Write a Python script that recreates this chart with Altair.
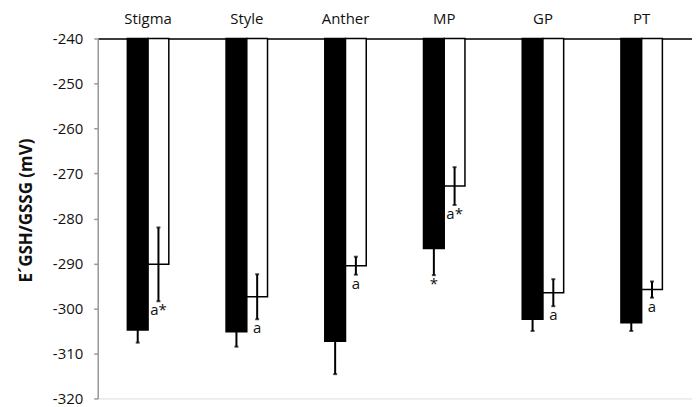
import altair as alt
import pandas as pd

categories = ["Stigma", "Style", "Anther", "MP", "GP", "PT"]
series = ["dark", "light"]
dark_vals = [-304.8, -305.2, -307.3, -286.7, -302.4, -303.2]
dark_err = [2.8, 3.3, 7.3, 5.9, 2.6, 1.8]
light_vals = [-290.2, -297.4, -290.5, -272.8, -296.5, -295.8]
light_err = [8.2, 5.0, 2.0, 4.2, 3.0, 1.8]
dark_labels = ["", "", "", "*", "", ""]
light_labels = ["a*", "a", "a", "a*", "a", "a"]
y_ticks = [-240, -250, -260, -270, -280, -290, -300, -310, -320]

FONT = "Open Sans"

rows = []
for i, c in enumerate(categories):
    for s, vals, errs, labs in [("dark", dark_vals, dark_err, dark_labels),
                                ("light", light_vals, light_err, light_labels)]:
        rows.append({"cat": c, "series": s, "value": vals[i],
                     "lo": vals[i] - errs[i], "hi": vals[i] + errs[i],
                     "label": labs[i]})
df = pd.DataFrame(rows)

x = alt.X("cat:N", sort=categories, title=None,
          scale=alt.Scale(paddingInner=0.58, paddingOuter=0.3),
          axis=alt.Axis(orient="top", domainColor="black", domainWidth=1.5,
                        ticks=False, labelAngle=0, labelPadding=12,
                        labelFont=FONT, labelFontSize=15, labelColor="#111"))
xo = alt.XOffset("series:N", sort=series, scale=alt.Scale(paddingInner=0, paddingOuter=0))
yscale = alt.Scale(domain=[-320, -240], nice=False, zero=False)

base = alt.Chart(df)

bars = base.mark_bar(stroke="black", strokeWidth=1.5).encode(
    x=x, xOffset=xo,
    y=alt.Y("value:Q", scale=yscale, title="E´GSH/GSSG (mV)",
            axis=alt.Axis(values=y_ticks, grid=False, domainColor="#999999",
                          domainWidth=1.5, tickColor="#999999", tickWidth=1.5,
                          tickSize=4, labelFont=FONT, labelFontSize=15,
                          labelExpr="datum.value + ''",
                          labelColor="#111", labelPadding=11,
                          titleFont=FONT, titleFontSize=17, titleFontWeight="bold",
                          titleColor="#111", titlePadding=17, titleY=172)),
    y2=alt.datum(-240),
    fill=alt.Fill("series:N", sort=series,
                  scale=alt.Scale(domain=series, range=["black", "white"]), legend=None),
)

err = base.mark_rule(color="black", strokeWidth=2).encode(
    x=x, xOffset=xo,
    y=alt.Y("lo:Q", scale=yscale), y2="hi:Q",
)
cap_lo = base.mark_tick(color="black", size=4, thickness=2, orient="horizontal").encode(
    x=x, xOffset=xo, y=alt.Y("lo:Q", scale=yscale))
cap_hi = base.mark_tick(color="black", size=4, thickness=2, orient="horizontal").encode(
    x=x, xOffset=xo, y=alt.Y("hi:Q", scale=yscale))

labels = base.mark_text(baseline="top", dy=2, font=FONT, fontSize=15, color="#111").encode(
    x=x, xOffset=xo, y=alt.Y("lo:Q", scale=yscale), text="label:N")

chart = alt.layer(bars, err, cap_lo, cap_hi, labels).properties(
    width=596, height=361,
    autosize=alt.AutoSizeParams(type="none"),
    padding={"left": 90, "top": 30, "right": 0, "bottom": 8},
).configure_view(stroke=None).configure(background="white")

chart.save("out.html", embed_options={"renderer": "svg", "actions": False})
